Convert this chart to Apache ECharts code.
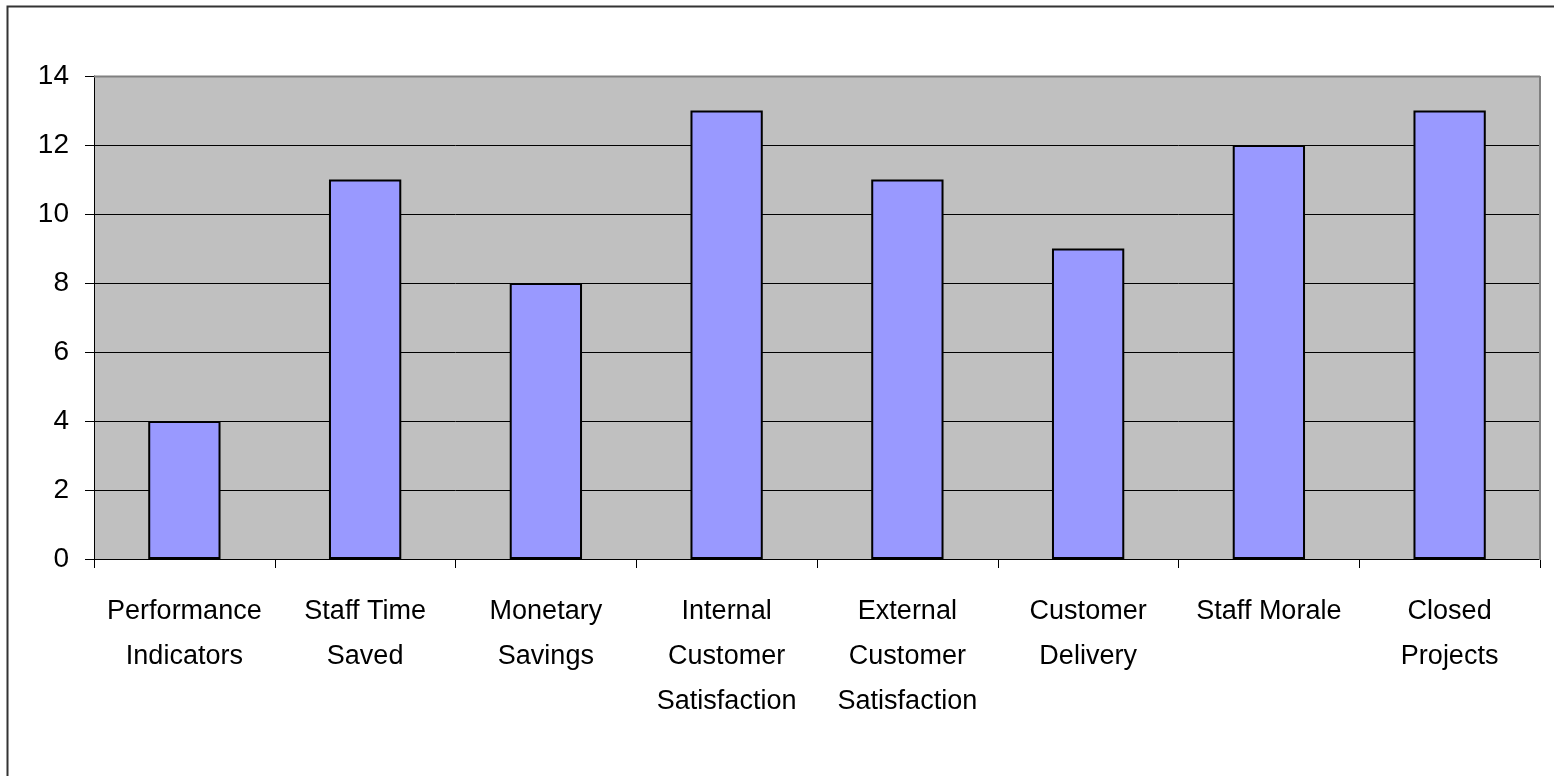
<!DOCTYPE html>
<html><head><meta charset="utf-8">
<script src="https://cdn.jsdelivr.net/npm/echarts@6/dist/echarts.min.js"></script>
<style>html,body{margin:0;padding:0;background:#fff}#c{width:1554px;height:776px}</style>
</head><body><div id="c"></div>
<script>
const categories = ['Performance\nIndicators','Staff Time\nSaved','Monetary\nSavings','Internal\nCustomer\nSatisfaction','External\nCustomer\nSatisfaction','Customer\nDelivery','Staff Morale','Closed\nProjects'];
const values = [4, 11, 8, 13, 11, 9, 12, 13];
const yTicks = [0, 2, 4, 6, 8, 10, 12, 14];
const FONT = '"Liberation Sans Narrow", "Arial Narrow", "Liberation Sans", sans-serif';
const chart = echarts.init(document.getElementById('c'));
chart.setOption({
  animation: false,
  graphic: [
    {type:'rect', shape:{x:7.5,y:6.5,width:1560,height:780}, style:{fill:'none', stroke:'#333', lineWidth:2}, z:0},
    {type:'line', shape:{x1:94,y1:76.5,x2:1540,y2:76.5}, style:{stroke:'#808080', lineWidth:2}, z:1},
    {type:'line', shape:{x1:1540,y1:76,x2:1540,y2:560}, style:{stroke:'#808080', lineWidth:2}, z:1}
  ],
  grid: {left:94, top:76, width:1446, height:483, backgroundColor:'#C0C0C0', show:true, borderWidth:0},
  xAxis: {
    type:'category', data:categories, boundaryGap:true,
    axisLine:{show:true, lineStyle:{color:'#000', width:1}},
    axisTick:{show:true, length:9, lineStyle:{color:'#000'}},
    axisLabel:{color:'#000', fontSize:27, fontFamily:FONT, lineHeight:45, margin:30, interval:0}
  },
  yAxis: {
    type:'value', min:0, max:14, interval:2,
    axisLine:{show:true, lineStyle:{color:'#000', width:1}},
    axisTick:{show:true, length:9, lineStyle:{color:'#000'}},
    splitLine:{show:true, lineStyle:{color:'#000', width:1}},
    axisLabel:{color:'#000', fontSize:28, fontFamily:FONT, margin:25,
      formatter: v => yTicks.includes(v) ? String(v) : ''}
  },
  series: [{
    type:'bar', data:values, barWidth:'40%',
    itemStyle:{color:'#9999FF', borderColor:'#000', borderWidth:2}
  }]
});
</script></body></html>
